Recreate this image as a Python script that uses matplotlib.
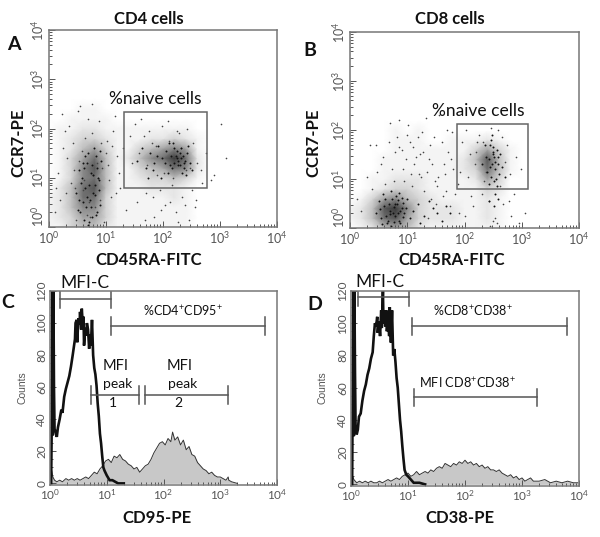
#flow cytometry panels: two dot plots on top, two histograms below

import numpy as np
import matplotlib as mpl
import matplotlib.pyplot as plt
from matplotlib.patches import Rectangle
from matplotlib.ticker import LogLocator, LogFormatterMathtext, MultipleLocator
mpl.rcParams['font.family'] = ['Lato', 'DejaVu Sans']
mpl.rcParams['mathtext.fontset'] = 'custom'
mpl.rcParams['mathtext.rm'] = 'Liberation Sans'

W, H = 600, 537
AXIS_GREY = '#777777'
TICK_GREY = '#555555'

#dot plot density, read by eye, decades on both axes
grid_x = [0, .2, .4, .6, .8, 1, 1.2, 1.4, 1.6, 1.8, 2, 2.2, 2.4, 2.6, 2.8, 3, 3.2, 3.4]
grid_y = [0, .2, .4, .6, .8, 1, 1.2, 1.4, 1.6, 1.8, 2, 2.2, 2.4, 2.6]

density_a = [
    [1, 1, 3, 4, 4, 2, 1, 1, 1, 1, 1, 1, 1, 0, 0, 0, 0, 0],
    [1, 2, 3, 5, 5, 3, 1, 1, 1, 1, 1, 1, 1, 0, 0, 0, 0, 0],
    [1, 2, 4, 6, 6, 3, 1, 1, 1, 1, 1, 1, 1, 0, 0, 0, 0, 0],
    [1, 2, 4, 7, 7, 3, 1, 1, 1, 1, 1, 2, 1, 0, 0, 0, 0, 0],
    [0, 2, 4, 7, 8, 4, 1, 1, 1, 2, 2, 2, 1, 0, 0, 0, 0, 0],
    [0, 1, 3, 6, 7, 4, 1, 1, 2, 3, 3, 4, 3, 1, 0, 0, 0, 0],
    [0, 1, 3, 6, 8, 4, 1, 1, 3, 4, 5, 7, 6, 2, 0, 0, 0, 0],
    [0, 1, 3, 5, 7, 4, 1, 2, 4, 6, 7, 9, 7, 2, 0, 0, 0, 0],
    [0, 1, 2, 4, 5, 3, 1, 1, 3, 4, 5, 6, 5, 1, 0, 0, 0, 0],
    [0, 1, 2, 3, 3, 2, 1, 1, 1, 2, 2, 3, 2, 1, 0, 0, 0, 0],
    [0, 1, 1, 2, 2, 1, 1, 1, 1, 1, 1, 1, 1, 0, 0, 0, 0, 0],
    [0, 0, 1, 1, 1, 1, 0, 0, 0, 0, 0, 0, 0, 0, 0, 0, 0, 0],
    [0, 0, 0, 1, 1, 0, 0, 0, 0, 0, 0, 0, 0, 0, 0, 0, 0, 0],
    [0, 0, 0, 0, 0, 0, 0, 0, 0, 0, 0, 0, 0, 0, 0, 0, 0, 0],
]
density_b = [
    [0, 1, 2, 4, 5, 4, 2, 1, 1, 1, 1, 1, 1, 1, 0, 0, 0, 0],
    [1, 2, 4, 7, 8, 5, 3, 2, 2, 2, 1, 1, 2, 1, 0, 0, 0, 0],
    [1, 2, 4, 8, 9, 6, 3, 2, 2, 2, 1, 1, 2, 1, 0, 0, 0, 0],
    [0, 1, 3, 5, 6, 4, 3, 2, 1, 1, 1, 1, 2, 1, 0, 0, 0, 0],
    [0, 0, 1, 2, 3, 3, 2, 1, 1, 1, 1, 1, 3, 2, 0, 0, 0, 0],
    [0, 0, 1, 1, 2, 2, 2, 1, 1, 1, 1, 2, 5, 3, 0, 0, 0, 0],
    [0, 0, 0, 1, 1, 1, 1, 1, 1, 1, 2, 3, 7, 4, 1, 0, 0, 0],
    [0, 0, 0, 1, 1, 1, 1, 1, 1, 1, 2, 4, 8, 4, 1, 0, 0, 0],
    [0, 0, 0, 0, 1, 1, 1, 1, 1, 1, 1, 3, 5, 3, 1, 0, 0, 0],
    [0, 0, 0, 0, 1, 1, 1, 0, 0, 1, 1, 1, 2, 1, 0, 0, 0, 0],
    [0, 0, 0, 0, 1, 0, 1, 0, 0, 0, 0, 0, 0, 0, 0, 0, 0, 0],
    [0, 0, 0, 0, 0, 0, 0, 0, 0, 0, 0, 0, 0, 0, 0, 0, 0, 0],
    [0, 0, 0, 0, 0, 0, 0, 0, 0, 0, 0, 0, 0, 0, 0, 0, 0, 0],
    [0, 0, 0, 0, 0, 0, 0, 0, 0, 0, 0, 0, 0, 0, 0, 0, 0, 0],
]

#single dots read by eye, decades
dots_a_x = [.1, .15, .22, .3, .35, .42, .48, .55, .62, .68, .75, .81, .88, .93, 1.02, 1.08, 1.15, 1.2, .25, .38,
            .52, .66, .78, .9, 1.0, 1.12, 1.25, 1.35, 1.42, 1.5, 1.55, 1.62, 1.7, 1.76, 1.84, 1.9, 1.98, 2.04, 2.1, 2.16,
            2.22, 2.28, 2.34, 2.4, 2.46, 2.52, 2.6, 2.68, 2.75, 2.9, 3.02, 1.45, 1.58, 1.72, 1.88, 2.02, 2.18, 2.32, 2.48, 2.56,
            .46, .58, .7, .84, .96, 1.1, .2, .32, .44, .6, .72, .86, 1.04, 1.18, 1.3, 1.68, 1.82, 1.96, 2.12, 2.26,
            2.38, 2.5, .12, .28, .5, .64, .76, .92, 1.06, 1.22, 1.66, 1.8, 1.94, 2.08, 2.24, 2.42, 2.58, 2.66, 2.84, 3.1]
dots_a_y = [.3, 1.1, 2.3, .7, 2.05, 1.7, .15, 2.45, .95, 2.2, 1.9, .4, 2.15, 1.2, 1.75, .6, 2.25, 1.45, 1.6, .9,
            1.35, .25, 1.05, .55, 1.5, 1.95, .8, .35, 1.85, 2.1, .5, 2.2, .7, 1.95, .2, 1.05, 2.05, .45, 1.75, .85,
            .3, 1.9, .6, 1.15, .15, 1.7, 1.3, .9, 1.5, 1.05, 2.1, 1.3, 1.5, 1.25, 1.65, 1.1, 1.0, 1.6, 1.2, .4,
            .8, 1.55, .5, 1.3, .1, 1.65, .55, 1.4, 1.15, .75, .2, 1.0, 1.25, .7, 1.6, .15, .6, .35, .5, .1,
            .45, .75, .8, 1.95, 2.35, 1.8, 2.5, 1.7, .95, 1.1, 1.85, 1.7, .75, 2.15, 1.95, 2.0, .55, 1.15, .95, 1.4]
core_a_x = [.5, .56, .61, .67, .72, .77, .83, .88, .53, .59, .64, .7, .75, .81, .86, .91, .47, .55, .63, .69,
            .74, .79, .85, .9, .58, .66, .71, .76, .82, .87, .52, .6, .65, .73, .78, .84, .89, .62, .68, .8,
            1.55, 1.63, 1.7, 1.78, 1.85, 1.92, 1.99, 2.06, 2.12, 2.17, 2.22, 2.27, 2.32, 2.37, 2.42, 2.47, 2.08, 2.14, 2.2, 2.25,
            2.3, 2.35, 2.4, 2.1, 2.16, 2.24, 2.29, 2.34, 2.39, 1.74, 1.82, 1.9, 1.96, 2.03, 2.19, 2.26, 2.31, 2.36, 2.44, 2.5]
core_a_y = [.35, .9, .15, 1.3, .55, 1.05, .25, .75, 1.15, .5, 1.45, .1, 1.25, .65, 1.0, 1.35, .7, .3, .8, 1.5,
            .4, 1.6, 1.2, .45, 1.0, .6, .85, .2, 1.45, .95, .55, 1.3, .4, 1.1, .7, .3, 1.55, 1.2, .05, .85,
            1.35, 1.6, 1.2, 1.5, 1.3, 1.65, 1.4, 1.55, 1.25, 1.7, 1.45, 1.35, 1.6, 1.2, 1.5, 1.3, 1.1, 1.45, 1.3, 1.55,
            1.25, 1.45, 1.05, 1.7, 1.2, 1.4, 1.5, 1.1, 1.35, 1.0, 1.15, 1.45, 1.0, 1.3, 1.6, 1.25, 1.4, 1.3, 1.65, 1.15]

dots_b_x = [.12, .2, .3, .38, .46, .55, .62, .7, .78, .85, .93, 1.0, 1.08, 1.16, 1.24, 1.32, 1.4, 1.48, 1.56, 1.64,
            .35, .68, .82, .9, 1.04, 1.12, 1.2, 1.3, 1.38, 1.46, 1.54, 1.62, 1.72, 1.8, 1.88, 1.95, 2.02, 2.1, 2.18, 2.26,
            2.34, 2.42, 2.5, 2.58, 2.66, 2.74, 2.82, 2.9, 2.98, 3.05, 2.06, 2.14, 2.22, 2.3, 2.38, 2.46, 2.54, 2.62, 2.7, 2.78,
            .74, .86, .98, 1.1, 1.22, 1.34, 1.44, 1.52, 1.66, 1.76, 1.84, 1.92, .94, 1.06, 1.18, 1.28, 1.42, 1.6, 1.7, 1.9,
            2.0, 2.12, 2.2, 2.32, 2.44, 2.56, 2.68, 2.8, 2.86, 2.96, 1.74, 1.02, 1.26, .58, .48, .76, 1.36, 1.5, 1.68, 1.78]
dots_b_y = [.6, .35, 1.05, .8, 1.7, 1.3, .9, 2.15, 1.55, 2.2, 1.2, 1.9, .85, 1.45, 1.05, 2.25, 1.7, .95, 2.3, 1.3,
            1.7, 1.75, 1.85, 1.6, 1.75, 1.3, 1.1, .75, 1.4, 1.85, 1.05, .65, 1.55, 1.2, .9, 1.75, 2.0, 1.5, 1.3, 1.9,
            .95, .55, .15, 2.0, 1.85, 1.7, .25, 1.45, 1.2, .3, 1.05, .45, 1.75, .7, 1.15, 2.05, .2, .85, 1.35, .55,
            1.2, 1.65, 1.4, 1.65, 1.5, 1.15, 1.3, .85, 1.1, 1.4, .7, 1.15, .95, 1.1, 1.85, 1.55, .6, 1.75, 2.0, .3,
            .25, .65, 1.55, 1.75, .05, .1, .5, 1.1, .7, .1, .45, 2.1, 1.95, 1.45, 1.15, .95, .2, .5, .75, 1.95]
core_b_x = [.45, .5, .55, .6, .65, .7, .74, .78, .82, .86, .9, .95, 1.0, 1.05, .58, .63, .68, .72, .76, .8,
            .84, .88, .92, .97, .52, .62, .66, .71, .75, .79, .83, .87, .93, .56, .69, .77, .85, .91, 1.1, 1.18,
            1.3, 1.45, 1.6, 1.75, 1.22, 1.38, 1.52, 1.68, 2.42, 2.46, 2.5, 2.54, 2.58, 2.44, 2.48, 2.52, 2.56, 2.6, 2.45, 2.49,
            2.53, 2.57, 2.4, 2.47, 2.51, 2.55, 2.59, 2.43, 2.5, 2.54, 2.62, 2.66, 2.38, 2.35, 2.7, 2.3, 2.42, 2.58, 2.48, 2.52]
core_b_y = [.3, .55, .2, .45, .1, .35, .6, .25, .5, .15, .4, .3, .6, .2, .7, .25, .5, .05, .42, .65,
            .3, .1, .52, .4, .38, .6, .15, .75, .3, .48, .58, .35, .22, .08, .28, .12, .72, .62, .35, .5,
            .25, .4, .15, .3, .1, .55, .3, .45, 1.4, 1.05, 1.55, 1.2, 1.45, 1.7, 1.3, .95, 1.6, 1.1, 1.25, 1.5,
            1.35, .85, 1.15, 1.8, 1.45, 1.0, 1.3, .9, 1.65, .7, 1.5, 1.25, 1.45, 1.7, 1.05, 1.3, .55, .6, 1.9, .45]

#histograms, decades on x, counts on y
ctrl_c_x = [.02, .03, .04, .05, .06, .07, .08, .1, .12, .14, .17, .2, .22, .25, .28, .31, .34, .37, .4, .42,
            .44, .45, .47, .48, .5, .52, .53, .55, .56, .58, .59, .6, .62, .64, .65, .67, .69, .7, .72, .74,
            .76, .78, .8, .82, .84, .86, .88, .9, .92, .94, .96, 1.0, 1.05, 1.1, 1.15, 1.2, 1.3]
ctrl_c_y = [0, 35, 120, 30, 120, 60, 34, 32, 29, 35, 40, 46, 44, 54, 59, 63, 67, 73, 80, 85,
            90, 100, 102, 88, 103, 99, 107, 96, 109, 98, 104, 86, 97, 92, 100, 96, 84, 93, 86, 102,
            80, 72, 68, 61, 50, 42, 31, 25, 17, 10, 8, 5, 2, 2, 1, 0, 0]
sample_c_x = [.02, .03, .05, .08, .12, .17, .22, .28, .33, .38, .43, .48, .53, .58, .63, .68, .73, .78, .83, .88,
              .93, .98, 1.03, 1.08, 1.13, 1.18, 1.23, 1.28, 1.33, 1.38, 1.43, 1.48, 1.53, 1.58, 1.63, 1.68, 1.73, 1.78, 1.83, 1.88,
              1.93, 1.98, 2.03, 2.08, 2.13, 2.16, 2.2, 2.25, 2.3, 2.35, 2.4, 2.45, 2.5, 2.55, 2.6, 2.65, 2.7, 2.75, 2.8, 2.85,
              2.9, 2.95, 3.0, 3.05, 3.1, 3.14, 3.15, 3.2, 3.3]
sample_c_y = [0, 8, 4, 2, 1, 2, 1, 3, 2, 3, 2, 3, 2, 3, 4, 3, 5, 7, 6, 9,
              11, 14, 15, 13, 17, 16, 18, 15, 14, 12, 11, 9, 10, 7, 9, 11, 12, 15, 19, 22,
              25, 26, 24, 28, 26, 32, 27, 29, 24, 27, 21, 23, 18, 17, 13, 11, 9, 8, 6, 7,
              5, 4, 4, 3, 2, 4, 2, 1, 0]

ctrl_d_x = [.02, .03, .04, .05, .06, .07, .08, .1, .12, .14, .17, .2, .23, .26, .29, .32, .35, .38, .4, .42,
            .44, .46, .47, .49, .51, .53, .54, .56, .57, .58, .6, .62, .63, .65, .67, .68, .7, .72, .74, .76,
            .78, .8, .82, .84, .86, .88, .9, .92, .94, .97, 1.0, 1.05, 1.1, 1.2, 1.3]
ctrl_d_y = [0, 60, 120, 30, 120, 70, 36, 31, 34, 42, 44, 52, 58, 62, 68, 72, 78, 82, 92, 100,
            98, 104, 94, 101, 92, 108, 97, 120, 100, 108, 98, 108, 95, 104, 92, 110, 88, 108, 80, 84,
            76, 66, 60, 50, 40, 33, 24, 16, 9, 6, 5, 3, 1, 1, 0]
sample_d_x = [.02, .03, .05, .1, .15, .2, .25, .3, .35, .4, .45, .5, .55, .6, .65, .7, .75, .8, .85, .9,
              .95, 1.0, 1.05, 1.1, 1.15, 1.2, 1.25, 1.3, 1.35, 1.4, 1.45, 1.5, 1.55, 1.6, 1.65, 1.7, 1.75, 1.8, 1.85, 1.9,
              1.95, 2.0, 2.05, 2.1, 2.15, 2.2, 2.25, 2.3, 2.35, 2.4, 2.45, 2.5, 2.55, 2.6, 2.65, 2.7, 2.75, 2.8, 2.85, 2.9,
              2.95, 3.0, 3.05, 3.1, 3.15, 3.2, 3.3, 3.4, 3.5, 3.6, 3.7, 3.8, 3.9, 3.98]
sample_d_y = [0, 5, 3, 1, 2, 1, 2, 1, 2, 1, 1, 2, 1, 2, 3, 2, 3, 4, 3, 5,
              6, 7, 5, 6, 8, 6, 7, 8, 7, 9, 8, 10, 11, 10, 13, 12, 11, 13, 12, 14,
              13, 15, 13, 14, 12, 13, 11, 12, 10, 11, 9, 9, 8, 9, 7, 6, 5, 6, 4, 5,
              3, 4, 2, 3, 4, 2, 2, 3, 1, 2, 1, 2, 1, 1]

#gates: start, end, height in counts
gates_c = [(.176, 1.067, 115), (1.067, 3.78, 98), (.72, 1.57, 55), (1.67, 3.14, 55)]
gates_d = [(.117, 1.01, 116), (1.07, 3.79, 98), (1.1, 3.27, 54)]
cap_c = 5.5

#rectangle gates, decades: x0, x1, y0, y1
box_a = (1.316, 2.77, .79, 2.335)
box_b = (1.866, 3.108, .805, 2.12)


def px_axes(left, right, top, bottom):
    return fig.add_axes([left / W, 1 - bottom / H, (right - left) / W, (bottom - top) / H])


def label(x, y, s, **kw):
    kw.setdefault('ha', 'center')
    kw.setdefault('va', 'center')
    kw.setdefault('color', '#111111')
    fig.text(x / W, 1 - y / H, s, **kw)


def style_axes(ax):
    for sp in ax.spines.values():
        sp.set_color(AXIS_GREY)
        sp.set_linewidth(1.1)
    ax.set_xscale('log')
    ax.set_xlim(1, 1e4)
    ax.xaxis.set_major_locator(LogLocator(base=10, numticks=6))
    ax.xaxis.set_minor_locator(LogLocator(base=10, subs=np.arange(2, 10), numticks=6))
    ax.xaxis.set_major_formatter(LogFormatterMathtext())
    ax.xaxis.set_minor_formatter(mpl.ticker.NullFormatter())
    ax.tick_params(axis='both', which='both', direction='in', color=TICK_GREY, labelcolor=TICK_GREY, width=.7)
    ax.tick_params(axis='both', which='major', length=4, labelsize=9, pad=2)
    ax.tick_params(axis='both', which='minor', length=2)


def dot_panel(left, right, top, bottom, density, dots_x, dots_y, core_x, core_y, box):
    ax = px_axes(left, right, top, bottom)
    style_axes(ax)
    ax.set_yscale('log')
    ax.set_ylim(1, 1e4)
    ax.set_yticks([1, 10, 100, 1000, 10000])
    ax.yaxis.set_minor_locator(LogLocator(base=10, subs=np.arange(2, 10), numticks=6))
    ax.yaxis.set_major_formatter(LogFormatterMathtext())
    ax.yaxis.set_minor_formatter(mpl.ticker.NullFormatter())
    plt.setp(ax.get_yticklabels(), rotation=90, va='center')
    #lowest label sits above the corner
    ax.get_yticklabels()[0].set_va('bottom')
    ax.pcolormesh(10.0 ** np.array(grid_x), 10.0 ** np.array(grid_y), np.array(density),
                  shading='gouraud', cmap='Greys', vmin=0, vmax=11, rasterized=True)
    ax.scatter(10.0 ** np.array(dots_x), 10.0 ** np.array(dots_y), s=1.4, c='#444444', linewidths=0)
    ax.scatter(10.0 ** np.array(core_x), 10.0 ** np.array(core_y), s=2, c='#111111', linewidths=0)
    x0, x1, y0, y1 = [10.0 ** v for v in box]
    ax.add_patch(Rectangle((x0, y0), x1 - x0, y1 - y0, fill=False, ec='#666666', lw=1.1))
    return ax


def hist_panel(left, right, top, bottom, ctrl_x, ctrl_y, sample_x, sample_y, gates):
    ax = px_axes(left, right, top, bottom)
    style_axes(ax)
    ax.set_ylim(-1, 120)
    ax.yaxis.set_major_locator(MultipleLocator(20))
    ax.yaxis.set_minor_locator(MultipleLocator(5))
    plt.setp(ax.get_yticklabels(), rotation=90, va='center')
    ax.tick_params(axis='both', labelsize=8.5)
    sx = 10.0 ** np.array(sample_x)
    ax.fill_between(sx, sample_y, color='#c8c8c8', lw=0)
    ax.plot(sx, sample_y, color='#333333', lw=.7)
    ax.plot(10.0 ** np.array(ctrl_x), ctrl_y, color='#111111', lw=1.9, solid_joinstyle='miter')
    for g0, g1, h in gates:
        ax.plot([10 ** g0, 10 ** g1], [h, h], color='#555555', lw=1.1)
        ax.plot([10 ** g0, 10 ** g0], [h - cap_c, h + cap_c], color='#555555', lw=1.1)
        ax.plot([10 ** g1, 10 ** g1], [h - cap_c, h + cap_c], color='#555555', lw=1.1)
    return ax


fig = plt.figure(figsize=(W / 100, H / 100), dpi=100)

dot_panel(49, 277, 30, 227, density_a, dots_a_x, dots_a_y, core_a_x, core_a_y, box_a)
dot_panel(350, 579, 32, 228, density_b, dots_b_x, dots_b_y, core_b_x, core_b_y, box_b)
hist_panel(50, 277, 291, 485, ctrl_c_x, ctrl_c_y, sample_c_x, sample_c_y, gates_c)
hist_panel(351, 579, 291, 486, ctrl_d_x, ctrl_d_y, sample_d_x, sample_d_y, gates_d)

#text, placed in image pixels
label(149, 19, 'CD4 cells', fontsize=12, fontweight='bold')
label(450, 19, 'CD8 cells', fontsize=12, fontweight='bold')
label(14, 45, 'A', fontsize=14, fontweight='bold')
label(310, 51, 'B', fontsize=14, fontweight='bold')
label(8, 303, 'C', fontsize=14, fontweight='bold')
label(315, 304, 'D', fontsize=14, fontweight='bold')
label(18, 143, 'CCR7-PE', fontsize=12, fontweight='bold', rotation=90)
label(313, 143, 'CCR7-PE', fontsize=12, fontweight='bold', rotation=90)
label(149, 260, 'CD45RA-FITC', fontsize=12, fontweight='bold')
label(452, 260, 'CD45RA-FITC', fontsize=12, fontweight='bold')
label(157, 518, 'CD95-PE', fontsize=12, fontweight='bold')
label(460, 518, 'CD38-PE', fontsize=12, fontweight='bold')
label(155, 99, '%naive cells', fontsize=12.5)
label(478, 111, '%naive cells', fontsize=12.5)
label(22, 388, 'Counts', fontsize=7.5, rotation=90, color=TICK_GREY, family='Liberation Sans')
label(323, 388, 'Counts', fontsize=7.5, rotation=90, color=TICK_GREY, family='Liberation Sans')
label(85, 283, 'MFI-C', fontsize=12.5)
label(380, 282, 'MFI-C', fontsize=12.5)
label(183, 311, '%CD4$^{+}$CD95$^{+}$', fontsize=9)
label(473, 311, '%CD8$^{+}$CD38$^{+}$', fontsize=9)
label(468, 383, 'MFI CD8$^{+}$CD38$^{+}$', fontsize=9.2)
label(116, 366, 'MFI', fontsize=10.5)
label(118, 384, 'peak', fontsize=10)
label(113, 403, '1', fontsize=10)
label(180, 366, 'MFI', fontsize=10.5)
label(183, 384, 'peak', fontsize=10)
label(178, 403, '2', fontsize=10)

plt.savefig('out.png', dpi=100)
